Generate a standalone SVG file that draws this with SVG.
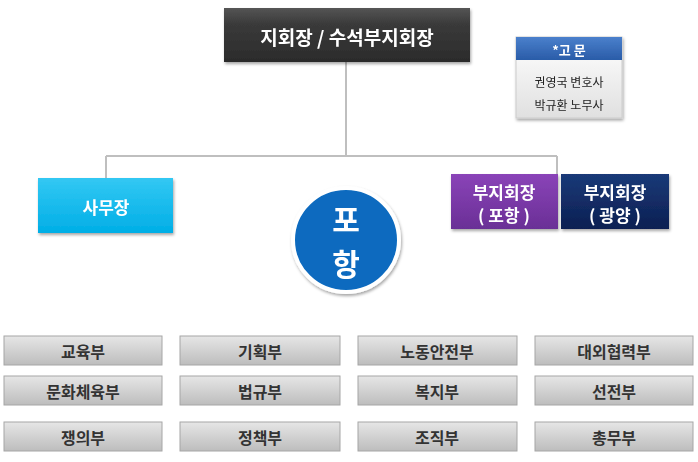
<svg xmlns="http://www.w3.org/2000/svg" width="698" height="462" viewBox="0 0 698 462">
<defs>
<style>
text{font-family:"Noto Sans CJK KR","Noto Sans",sans-serif;font-weight:bold;text-anchor:middle;dominant-baseline:central}
.w{fill:#fff}
.g{fill:url(#gg);stroke:#a6a6a6;stroke-width:1}
.gt{fill:#333;font-size:16px}
.ln{stroke:#bfbfbf;stroke-width:2;fill:none}
</style>
<linearGradient id="gg" x1="0" y1="0" x2="0" y2="1"><stop offset="0" stop-color="#e6e6e6"/><stop offset="1" stop-color="#bdbdbd"/></linearGradient>
<linearGradient id="dk" x1="0" y1="0" x2="0" y2="1"><stop offset="0" stop-color="#555"/><stop offset="0.3" stop-color="#3a3a3a"/><stop offset="1" stop-color="#2b2b2b"/></linearGradient>
<linearGradient id="cy" x1="0" y1="0" x2="0" y2="1"><stop offset="0" stop-color="#33c8f3"/><stop offset="1" stop-color="#00aee6"/></linearGradient>
<linearGradient id="pu" x1="0" y1="0" x2="0" y2="1"><stop offset="0" stop-color="#8a44b8"/><stop offset="1" stop-color="#6a2f96"/></linearGradient>
<linearGradient id="nv" x1="0" y1="0" x2="0" y2="1"><stop offset="0" stop-color="#1a3a78"/><stop offset="1" stop-color="#0c1f52"/></linearGradient>
<linearGradient id="bl" x1="0" y1="0" x2="0" y2="1"><stop offset="0" stop-color="#4a80cc"/><stop offset="1" stop-color="#2a5ca8"/></linearGradient>
<linearGradient id="wh" x1="0" y1="0" x2="0" y2="1"><stop offset="0" stop-color="#fff"/><stop offset="1" stop-color="#e0e0e0"/></linearGradient>
<filter id="sh" x="-10%" y="-10%" width="125%" height="130%"><feDropShadow dx="1" dy="2" stdDeviation="1.5" flood-color="#000" flood-opacity="0.35"/></filter>
</defs>
<g id="connectors">
<path class="ln" d="M346 62V156M106 156H557M106 156V178M557 156V174"/>
</g>
<g id="chief" filter="url(#sh)"><rect x="224" y="8" width="246" height="54" fill="url(#dk)"/><text x="347" y="36" class="w" font-size="19">지회장 / 수석부지회장</text></g>
<g id="advisor" filter="url(#sh)"><rect x="516" y="37" width="106" height="81" fill="url(#wh)" stroke="#ccc"/><rect x="516" y="37" width="106" height="23" fill="url(#bl)"/><text x="569" y="49" class="w" font-size="13">*고  문</text><text x="569" y="81" font-size="12" font-weight="normal" fill="#222" style="font-weight:normal">권영국 변호사</text><text x="569" y="104" font-size="12" fill="#222" style="font-weight:normal">박규환 노무사</text></g>
<g id="secretary" filter="url(#sh)"><rect x="38" y="178" width="135" height="55" fill="url(#cy)"/><text x="106" y="206" class="w" font-size="17">사무장</text></g>
<g id="vp-pohang" filter="url(#sh)"><rect x="451" y="174" width="107" height="55" fill="url(#pu)"/><text x="504" y="191" class="w" font-size="17">부지회장</text><text x="504" y="214" class="w" font-size="17">(  포항  )</text></g>
<g id="vp-gwangyang" filter="url(#sh)"><rect x="561" y="174" width="108" height="55" fill="url(#nv)"/><text x="615" y="191" class="w" font-size="17">부지회장</text><text x="615" y="214" class="w" font-size="17">( 광양 )</text></g>
<g id="pohang" filter="url(#sh)"><ellipse cx="346" cy="240" rx="53" ry="52" fill="#0a6abf" stroke="#fff" stroke-width="4"/><text x="346" y="218" class="w" font-size="30">포</text><text x="346" y="262" class="w" font-size="30">항</text></g>
<g id="d1"><rect class="g" x="4" y="336" width="158" height="29"/><text class="gt" x="83" y="351">교육부</text></g>
<g id="d2"><rect class="g" x="180" y="336" width="160" height="29"/><text class="gt" x="260" y="351">기획부</text></g>
<g id="d3"><rect class="g" x="358" y="336" width="159" height="29"/><text class="gt" x="437" y="351">노동안전부</text></g>
<g id="d4"><rect class="g" x="535" y="336" width="158" height="29"/><text class="gt" x="614" y="351">대외협력부</text></g>
<g id="d5"><rect class="g" x="4" y="376" width="158" height="29"/><text class="gt" x="83" y="391">문화체육부</text></g>
<g id="d6"><rect class="g" x="180" y="376" width="160" height="29"/><text class="gt" x="260" y="391">법규부</text></g>
<g id="d7"><rect class="g" x="358" y="376" width="159" height="29"/><text class="gt" x="437" y="391">복지부</text></g>
<g id="d8"><rect class="g" x="535" y="376" width="158" height="29"/><text class="gt" x="614" y="391">선전부</text></g>
<g id="d9"><rect class="g" x="4" y="422" width="158" height="29"/><text class="gt" x="83" y="437">쟁의부</text></g>
<g id="d10"><rect class="g" x="180" y="422" width="160" height="29"/><text class="gt" x="260" y="437">정책부</text></g>
<g id="d11"><rect class="g" x="358" y="422" width="159" height="29"/><text class="gt" x="437" y="437">조직부</text></g>
<g id="d12"><rect class="g" x="535" y="422" width="158" height="29"/><text class="gt" x="614" y="437">총무부</text></g>
</svg>
